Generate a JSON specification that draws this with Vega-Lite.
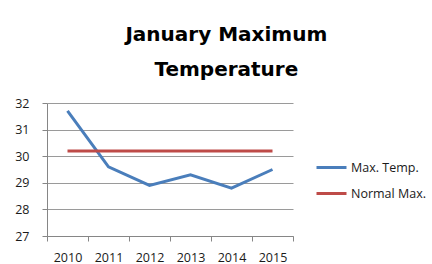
{
  "$schema": "https://vega.github.io/schema/vega-lite/v6.json",
  "width": 246,
  "height": 133,
  "autosize": {"type": "none"},
  "padding": {"left": 47, "top": 103, "right": 139, "bottom": 28},
  "background": "white",
  "title": {
    "text": ["January Maximum", "Temperature"],
    "font": "DejaVu Sans",
    "fontSize": 20,
    "fontWeight": "bold",
    "color": "#000000",
    "lineHeight": 35,
    "anchor": "middle",
    "frame": "bounds",
    "offset": 17,
    "dx": 6
  },
  "data": {
    "values": [
      {"year": "2010", "series": "Max. Temp.", "temp": 31.7},
      {"year": "2011", "series": "Max. Temp.", "temp": 29.6},
      {"year": "2012", "series": "Max. Temp.", "temp": 28.9},
      {"year": "2013", "series": "Max. Temp.", "temp": 29.3},
      {"year": "2014", "series": "Max. Temp.", "temp": 28.8},
      {"year": "2015", "series": "Max. Temp.", "temp": 29.5},
      {"year": "2010", "series": "Normal Max.", "temp": 30.2},
      {"year": "2011", "series": "Normal Max.", "temp": 30.2},
      {"year": "2012", "series": "Normal Max.", "temp": 30.2},
      {"year": "2013", "series": "Normal Max.", "temp": 30.2},
      {"year": "2014", "series": "Normal Max.", "temp": 30.2},
      {"year": "2015", "series": "Normal Max.", "temp": 30.2}
    ]
  },
  "mark": {"type": "line", "strokeWidth": 3},
  "encoding": {
    "x": {
      "field": "year",
      "type": "ordinal",
      "scale": {"type": "band", "paddingInner": 0, "paddingOuter": 0},
      "axis": {
        "title": null,
        "labelAngle": 0,
        "tickBand": "extent",
        "tickSize": 5,
        "tickColor": "#868686",
        "domainColor": "#868686",
        "labelPadding": 10,
        "labelFont": "Open Sans",
        "labelFontSize": 12.5,
        "labelColor": "#1a1a1a",
        "grid": false
      }
    },
    "y": {
      "field": "temp",
      "type": "quantitative",
      "scale": {"domain": [27, 32], "nice": false, "zero": false},
      "axis": {
        "title": null,
        "values": [27, 28, 29, 30, 31, 32],
        "tickSize": 5,
        "tickColor": "#868686",
        "domainColor": "#868686",
        "gridColor": "#9a9a9a",
        "labelPadding": 13,
        "labelFont": "Open Sans",
        "labelFontSize": 12.5,
        "labelColor": "#1a1a1a"
      }
    },
    "color": {
      "field": "series",
      "type": "nominal",
      "scale": {"domain": ["Max. Temp.", "Normal Max."], "range": ["#4a7ebb", "#be4b48"]},
      "legend": {
        "title": null,
        "orient": "none",
        "legendX": 268,
        "legendY": 48,
        "padding": 0,
        "symbolType": "stroke",
        "symbolSize": 900,
        "symbolStrokeWidth": 3,
        "labelFont": "Open Sans",
        "labelFontSize": 12.5,
        "labelColor": "#1a1a1a",
        "labelOffset": 3,
        "rowPadding": 3
      }
    }
  },
  "config": {"font": "Open Sans", "view": {"stroke": null}}
}
